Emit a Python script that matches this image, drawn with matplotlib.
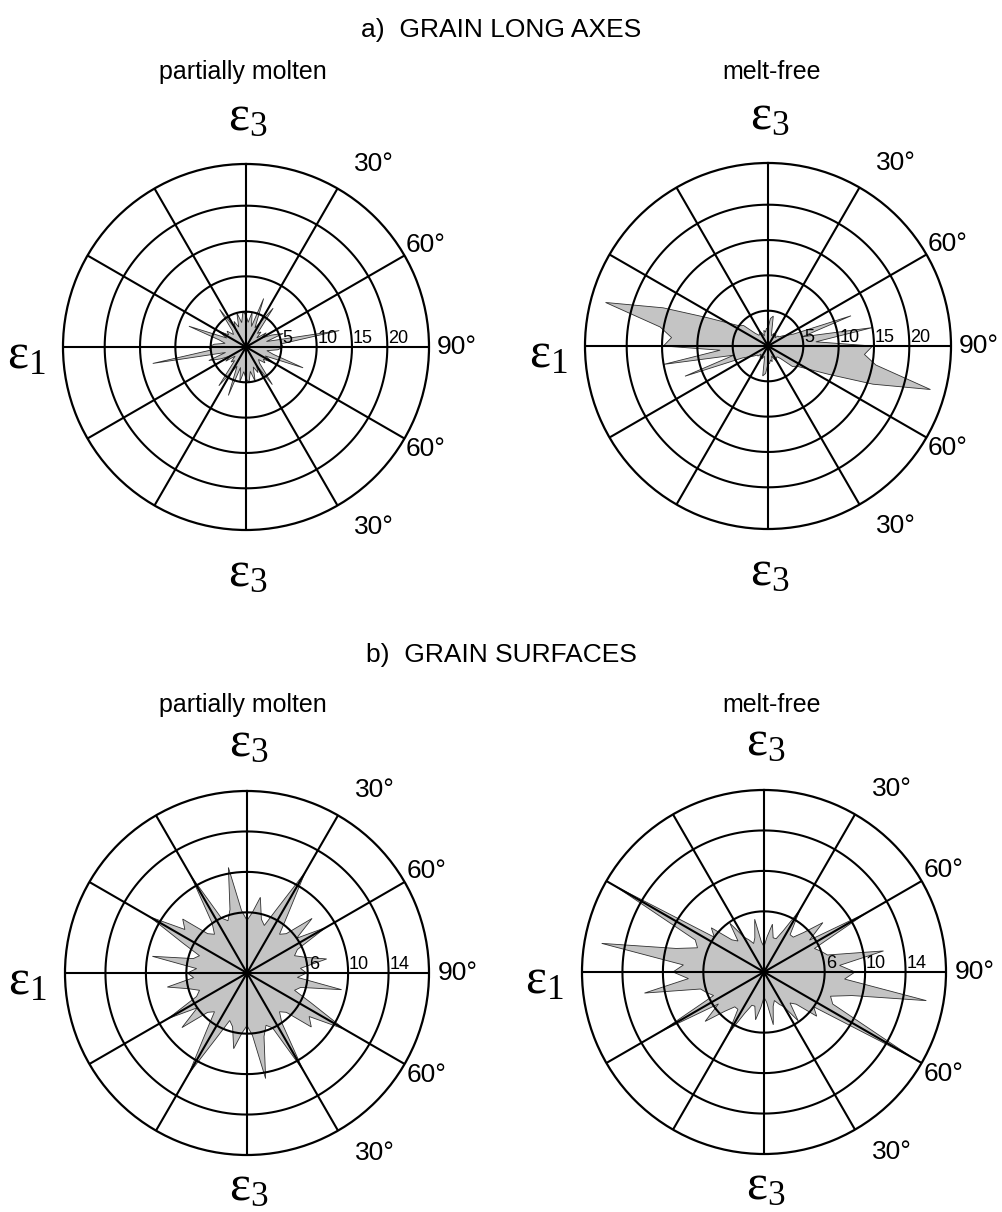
import numpy as np
import matplotlib.pyplot as plt

# bin directions (deg, clockwise from eps3 axis); axial data, mirrored by 180 deg
bin_deg = np.arange(0, 180, 5)

long_molten = [4.5, 3.5, 5.0, 3.0, 7.3, 3.0, 4.0, 6.7, 2.5, 3.0, 2.0, 3.5,
               2.5, 4.0, 5.6, 3.0, 13.4, 5.0, 5.3, 4.5, 3.0, 4.0, 8.6, 3.0,
               4.5, 3.0, 3.5, 2.5, 3.0, 6.5, 3.0, 4.0, 3.0, 5.0, 3.5, 5.0]
long_free = [2.5, 3.9, 4.3, 2.0, 1.5, 2.0, 1.5, 2.0, 1.5, 2.0, 2.0, 2.5,
             3.0, 4.0, 12.5, 5.0, 15.0, 6.8, 14.8, 13.7, 15.5, 23.8, 15.8, 9.5,
             6.5, 5.0, 4.5, 2.5, 2.0, 2.0, 2.5, 2.0, 1.5, 2.3, 2.0, 2.5]
surf_molten = [5.2, 6.0, 7.6, 5.5, 5.0, 7.0, 11.5, 7.0, 5.0, 5.5, 8.4, 6.0,
               9.0, 5.5, 5.0, 6.0, 8.0, 5.3, 5.9, 5.0, 9.5, 5.5, 5.0, 7.0,
               11.1, 7.5, 8.3, 5.5, 5.0, 6.0, 11.1, 6.0, 5.5, 6.5, 10.6, 6.2]
surf_free = [2.5, 3.5, 4.8, 3.5, 3.5, 4.5, 7.1, 4.5, 4.5, 5.5, 7.6, 5.5,
             11.7, 5.5, 6.0, 6.5, 12.0, 7.5, 9.0, 8.0, 16.3, 9.0, 7.0, 7.5,
             17.0, 6.0, 6.8, 4.5, 4.0, 5.9, 4.0, 3.5, 3.0, 3.5, 5.3, 3.0]

rings_long = [5, 10, 15, 20]
rings_surf = [6, 10, 14]
rmax_long = 25.9
rmax_surf = 18.0

titles = ['a)  GRAIN LONG AXES', 'b)  GRAIN SURFACES']
subtitles = ['partially molten', 'melt-free']
angle_labels = ['30°', '60°', '90°', '60°', '30°']

plt.rcParams['font.family'] = ['Liberation Sans', 'DejaVu Sans']
plt.rcParams['mathtext.fontset'] = 'custom'
plt.rcParams['mathtext.rm'] = 'Liberation Serif'
plt.rcParams['mathtext.it'] = 'Liberation Serif:italic'

W, H = 1002, 1212
fig = plt.figure(figsize=(W / 100, H / 100), dpi=100)


def rose(cx, cy, R, values, rings, rmax, bottom_eps):
    ax = fig.add_axes([(cx - R) / W, (H - cy - R) / H, 2 * R / W, 2 * R / H],
                      projection='polar')
    th = np.deg2rad(np.concatenate([bin_deg, bin_deg + 180]))
    r = np.concatenate([values, values])
    ax.fill(np.append(th, th[0]), np.append(r, r[0]), facecolor='#c4c4c4',
            edgecolor='#303030', lw=0.6, zorder=1)
    ax.set_theta_zero_location('N')
    ax.set_theta_direction(-1)
    ax.set_ylim(0, rmax)
    ax.set_xticks(np.deg2rad(np.arange(0, 360, 30)))
    ax.set_yticks(rings)
    ax.set_xticklabels([])
    ax.set_yticklabels([])
    ax.xaxis.grid(True, color='black', lw=1.5)
    ax.yaxis.grid(False)
    ax.set_axisbelow(False)
    ax.spines['polar'].set_linewidth(1.6)
    circ = np.linspace(0, 2 * np.pi, 361)
    for rv in rings:
        ax.plot(circ, np.full_like(circ, rv), color='black', lw=1.5, zorder=3)
        ax.annotate(str(rv), xy=(np.pi / 2, rv), xytext=(1, 0),
                    textcoords='offset pixels', ha='left', va='bottom',
                    fontsize=13, zorder=5)
    # direction labels around the circle
    offs = [(128, -183), (180, -102), (211, 0), (180, 102), (128, 180)]
    for lab, (dx, dy) in zip(angle_labels, offs):
        ax.annotate(lab, xy=(0.5, 0.5), xycoords='axes fraction',
                    xytext=(dx, -dy), textcoords='offset pixels',
                    ha='center', va='center', fontsize=19)
    for txt, (dx, dy) in [(r'$\mathrm{ε}_{3}$', (2, -230)),
                          (r'$\mathrm{ε}_{3}$', (2, bottom_eps)),
                          (r'$\mathrm{ε}_{1}$', (-220, 8))]:
        ax.annotate(txt, xy=(0.5, 0.5), xycoords='axes fraction',
                    xytext=(dx, -dy), textcoords='offset pixels',
                    ha='center', va='center', fontsize=36)
    return ax


rose(246, 347, 183, long_molten, rings_long, rmax_long, 226)
rose(768, 346, 183, long_free, rings_long, rmax_long, 226)
rose(247, 973, 182, surf_molten, rings_surf, rmax_surf, 214)
rose(764, 972, 182, surf_free, rings_surf, rmax_surf, 214)

fig.text(501 / W, 1 - 30 / H, titles[0], ha='center', va='center', fontsize=19)
fig.text(501 / W, 1 - 655 / H, titles[1], ha='center', va='center', fontsize=19)
for y in (72, 705):
    fig.text(243 / W, 1 - y / H, subtitles[0], ha='center', va='center', fontsize=18)
    fig.text(772 / W, 1 - y / H, subtitles[1], ha='center', va='center', fontsize=18)

fig.savefig('out.png', dpi=100)
